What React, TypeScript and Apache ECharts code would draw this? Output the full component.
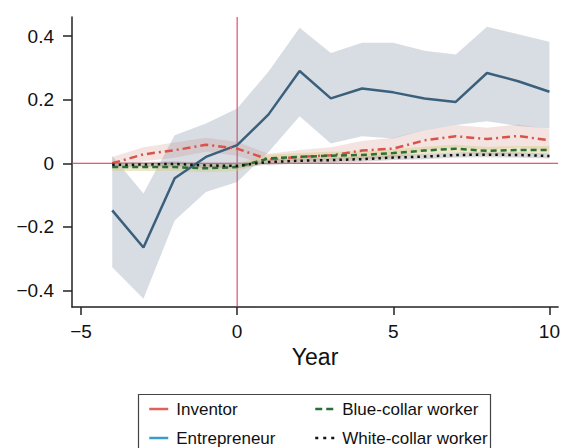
import React, { useEffect, useRef } from "react";
import * as echarts from "echarts";

const years = [-4, -3, -2, -1, 0, 1, 2, 3, 4, 5, 6, 7, 8, 9, 10];

const entrepreneur = [-0.148, -0.265, -0.047, 0.02, 0.057, 0.153, 0.29, 0.204, 0.235, 0.223, 0.204, 0.193, 0.284, 0.258, 0.225];
const entrepreneurHi = [0.023, -0.095, 0.088, 0.125, 0.172, 0.288, 0.426, 0.347, 0.379, 0.379, 0.354, 0.342, 0.429, 0.406, 0.382];
const entrepreneurLo = [-0.327, -0.426, -0.18, -0.09, -0.059, 0.035, 0.148, 0.062, 0.085, 0.078, 0.104, 0.12, 0.132, 0.117, 0.109];

const inventor = [0.0, 0.028, 0.041, 0.058, 0.046, 0.012, 0.02, 0.025, 0.04, 0.046, 0.072, 0.085, 0.076, 0.086, 0.072];
const inventorHi = [0.02, 0.05, 0.065, 0.08, 0.068, 0.03, 0.042, 0.05, 0.07, 0.08, 0.105, 0.12, 0.112, 0.122, 0.108];
const inventorLo = [-0.012, 0.006, 0.017, 0.036, 0.024, -0.008, 0.0, 0.002, 0.012, 0.016, 0.04, 0.05, 0.042, 0.05, 0.038];

const blueCollar = [-0.012, -0.012, -0.012, -0.016, -0.012, 0.015, 0.02, 0.024, 0.026, 0.032, 0.04, 0.046, 0.039, 0.042, 0.042];
const blueCollarHi = [0.0, 0.0, 0.0, -0.004, 0.0, 0.027, 0.032, 0.036, 0.038, 0.044, 0.052, 0.058, 0.051, 0.054, 0.054];
const blueCollarLo = [-0.024, -0.024, -0.024, -0.028, -0.024, 0.003, 0.008, 0.012, 0.014, 0.02, 0.028, 0.034, 0.027, 0.03, 0.03];

const whiteCollar = [-0.005, -0.004, -0.002, -0.007, -0.008, 0.004, 0.008, 0.01, 0.013, 0.018, 0.021, 0.026, 0.027, 0.026, 0.023];
const whiteCollarHi = [0.003, 0.004, 0.006, 0.001, 0.0, 0.012, 0.016, 0.018, 0.021, 0.026, 0.029, 0.034, 0.035, 0.034, 0.031];
const whiteCollarLo = [-0.013, -0.012, -0.01, -0.015, -0.016, -0.004, 0.0, 0.002, 0.005, 0.01, 0.013, 0.018, 0.019, 0.018, 0.015];

const xTicks = [-5, 0, 5, 10];
const yTicks = [-0.4, -0.2, 0, 0.2, 0.4];

const X_MIN = -5.288;
const X_MAX = 10.278;
const Y_MIN = -0.452;
const Y_MAX = 0.46;

const FONT = "'Liberation Sans', Arial, Helvetica, sans-serif";
const REF_RED = "#dc2c4e";

function band(name: string, lo: number[], hi: number[], fill: string, z: number) {
  return {
    name,
    type: "custom",
    silent: true,
    z,
    data: years.map((x, i) => [x, lo[i], hi[i]]),
    encode: { x: 0, y: [1, 2] },
    renderItem: (params: any, api: any) => {
      if (params.dataIndex !== 0) return null;
      const top = years.map((x, i) => api.coord([x, hi[i]]));
      const bot = years.map((x, i) => api.coord([x, lo[i]])).reverse();
      return {
        type: "polygon",
        shape: { points: top.concat(bot) },
        style: { fill },
      };
    },
  };
}

function line(name: string, vals: number[], color: string, type: any, z: number) {
  return {
    name,
    type: "line",
    z,
    symbol: "none",
    showSymbol: false,
    data: years.map((x, i) => [x, vals[i]]),
    lineStyle: { color, width: 2.5, type, cap: "butt" },
    itemStyle: { color },
  };
}

function refLine(name: string, pts: number[][]) {
  return {
    name,
    type: "line",
    z: 1,
    silent: true,
    symbol: "none",
    showSymbol: false,
    data: pts,
    lineStyle: { color: REF_RED, width: 1, type: "solid" },
    itemStyle: { color: REF_RED },
    emphasis: { disabled: true },
  };
}

const hiddenItem = { color: "rgba(0,0,0,0)", borderColor: "rgba(0,0,0,0)", borderWidth: 0 };

export default function App() {
  const ref = useRef<HTMLDivElement>(null);
  useEffect(() => {
    document.body.style.margin = "0";
    const chart = echarts.init(ref.current!, null, { renderer: "svg" });
    const fmtX = (v: number) => (v < 0 ? "\u2212" + Math.abs(v) : String(v));
    const fmtY = (v: number) =>
      Math.abs(v) < 1e-9 ? "0" : v < 0 ? "\u2212" + Math.abs(v).toFixed(1) : v.toFixed(1);
    chart.setOption({
      animation: false,
      textStyle: { fontFamily: FONT },
      grid: { left: 72, right: 4, top: 17, bottom: 141 },
      xAxis: {
        type: "value",
        min: X_MIN,
        max: X_MAX,
        name: "Year",
        nameLocation: "middle",
        nameGap: 36,
        nameTextStyle: { fontSize: 23, color: "#111", fontFamily: FONT },
        splitLine: { show: false },
        axisLine: { onZero: false, lineStyle: { color: "#222", width: 1.5 } },
        axisTick: { customValues: xTicks, length: 8, lineStyle: { color: "#222", width: 1.5 } },
        axisLabel: {
          customValues: xTicks,
          formatter: fmtX,
          fontSize: 19,
          color: "#111",
          margin: 15,
          fontFamily: FONT,
        },
      },
      yAxis: {
        type: "value",
        min: Y_MIN,
        max: Y_MAX,
        splitLine: { show: false },
        axisLine: { onZero: false, lineStyle: { color: "#222", width: 1.5 } },
        axisTick: { customValues: yTicks, length: 9, lineStyle: { color: "#222", width: 1.5 } },
        axisLabel: {
          customValues: yTicks,
          formatter: fmtY,
          fontSize: 19,
          color: "#111",
          margin: 18,
          fontFamily: FONT,
        },
      },
      legend: [
        {
          orient: "vertical",
          left: 148,
          top: 399,
          padding: 0,
          itemWidth: 19,
          itemHeight: 14,
          itemGap: 9,
          textStyle: { fontSize: 17, color: "#111", lineHeight: 20, fontFamily: FONT, padding: [0, 0, 0, 3] },
          itemStyle: hiddenItem,
          data: [
            { name: "Inventor", lineStyle: { type: "solid", color: "#e0605a", width: 2.5 }, itemStyle: hiddenItem },
            { name: "Entrepreneur", lineStyle: { type: "solid", color: "#3b9bc9", width: 2.5 }, itemStyle: hiddenItem },
          ],
        },
        {
          orient: "vertical",
          left: 314,
          top: 399,
          padding: 0,
          itemWidth: 19,
          itemHeight: 14,
          itemGap: 9,
          textStyle: { fontSize: 17, color: "#111", lineHeight: 20, fontFamily: FONT, padding: [0, 0, 0, 3] },
          itemStyle: hiddenItem,
          data: [
            { name: "Blue-collar worker", lineStyle: { type: [7, 4], color: "#2a6e3a", width: 2.5 }, itemStyle: hiddenItem },
            { name: "White-collar worker", lineStyle: { type: [3, 5], color: "#111", width: 2.5 }, itemStyle: hiddenItem },
          ],
        },
      ],
      graphic: [
        {
          type: "rect",
          silent: true,
          shape: { x: 138.5, y: 394.5, width: 352, height: 80 },
          style: { fill: "none", stroke: "#444", lineWidth: 1.2 },
        },
      ],
      series: [
        refLine("ref-x", [[0, Y_MIN], [0, Y_MAX]]),
        refLine("ref-y", [[X_MIN, 0], [X_MAX, 0]]),
        band("Entrepreneur CI", entrepreneurLo, entrepreneurHi, "rgba(110,130,155,0.27)", 2),
        band("Inventor CI", inventorLo, inventorHi, "rgba(195,120,105,0.2)", 2),
        band("Blue-collar CI", blueCollarLo, blueCollarHi, "rgba(215,205,130,0.45)", 2),
        band("White-collar CI", whiteCollarLo, whiteCollarHi, "rgba(140,140,140,0.35)", 2),
        line("Entrepreneur", entrepreneur, "#3b607b", "solid", 3),
        line("Inventor", inventor, "#d9534a", [8, 4, 2, 4], 3),
        line("Blue-collar worker", blueCollar, "#2a6e3a", [6, 4], 3),
        line("White-collar worker", whiteCollar, "#111111", [2.5, 4], 3),
      ],
    });
    return () => chart.dispose();
  }, []);
  return <div ref={ref} style={{ width: 563, height: 448 }} />;
}
